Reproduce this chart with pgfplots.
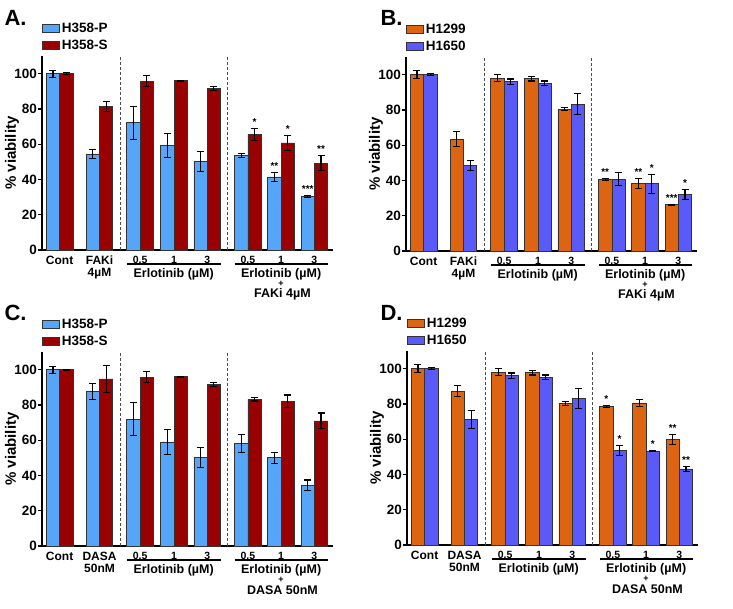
\documentclass[border=0pt]{standalone}
\usepackage{pgfplots}
\pgfplotsset{compat=1.18}
\usepackage{pgfplotstable}
\usepackage{fontspec}
\setmainfont{Liberation Sans}
\definecolor{lblue}{HTML}{55A6F8}
\definecolor{dred}{HTML}{990000}
\definecolor{dorange}{HTML}{DD6410}
\definecolor{vblue}{HTML}{5A5AF8}
\newcommand\fs[1]{\fontsize{#1}{#1}\selectfont\bfseries}
\newcommand\sn[1]{{\fs{10.5}#1}}

\pgfplotstableread{
x P eP S eS
0 100 2 100 0.5
1.2 54.5 2.5 81.4 2.8
2.42 72.1 9.3 95.8 3.2
3.44 59.2 7 96 0.3
4.44 50.3 5.7 91.5 1.2
5.66 53.5 1.1 65.7 3.4
6.66 41.4 2.7 60.7 4.2
7.66 30.4 0.5 49.3 4.2
}\dataA
\pgfplotstableread{
x P eP S eS
0 100 2.2 100 0.5
1.2 63.4 4.2 48.4 2.8
2.42 97.9 2 96 1.5
3.44 97.7 1.3 95.1 1.3
4.44 80.5 1 83.3 5.9
5.66 40.4 0.5 40.8 3.8
6.66 38.1 2.8 38.1 5.4
7.66 26.2 0.4 32.1 2.8
}\dataB
\pgfplotstableread{
x P eP S eS
0 100 2 100 0.3
1.2 87.6 4.6 94.7 7.8
2.42 72 9.5 95.8 3.2
3.44 59 7 96 0.3
4.44 50.3 5.7 91.4 1.2
5.66 58.3 5.1 83.2 1
6.66 50.1 3.1 82.1 3.5
7.66 34.5 2.9 70.9 4.5
}\dataC
\pgfplotstableread{
x P eP S eS
0 100 2.2 100 0.4
1.2 87.3 3 71.2 4.9
2.42 97.9 2 96 1.5
3.44 97.7 1.3 95.1 1.3
4.44 80.3 1 83 5.8
5.66 78.4 0.5 53.5 2.8
6.66 80.6 1.9 53.3 0.4
7.66 59.8 2.9 43.1 1.6
}\dataD

\tikzset{st/.style={font=\fs{10}, anchor=base, inner sep=0pt}}
\pgfplotsset{
 panel/.style={
  scale only axis, width=291pt, height=194pt,
  xmin=-0.53, xmax=8.22, ymin=0, ymax=110,
  axis lines=left, axis line style={-, line width=1.6pt},
  clip=false,
  ybar, bar width=0.4,
  ytick={0,20,40,60,80,100},
  tick align=outside, major tick length=4pt,
  every tick/.style={black, line width=1.3pt},
  xtick={0,1.2,2.42,3.44,4.44,5.66,6.66,7.66},
  major x tick style={draw=none},
  /pgf/number format/assume math mode=true,
  yticklabel style={font=\fs{13.5}, inner sep=1pt},
  xticklabel style={font=\fs{12}, align=center, anchor=north, inner sep=0pt, yshift=-2pt},
  legend cell align=left,
  legend style={draw=none, fill=none, at={(rel axis cs:0,1)}, anchor=south west, yshift=4pt, font=\fs{13.5}, inner sep=0pt, row sep=4pt, nodes={inner xsep=2pt, inner ysep=1pt}},
  legend image code/.code={\draw[#1] (0pt,-4pt) rectangle (17pt,4pt);},
 },
 bars/.style={draw=black!80, line width=0.7pt, fill=#1, error bars/.cd, y dir=both, y explicit, error bar style={line width=1.1pt, black}, error mark options={rotate=90, mark size=3.5pt, line width=1.1pt, black}},
}

\newcommand\decor[1]{%
  \draw[densely dashed, black!70, line width=0.6pt] (axis cs:1.81,0) -- (axis cs:1.81,110);
  \draw[densely dashed, black!70, line width=0.6pt] (axis cs:5.05,0) -- (axis cs:5.05,110);
  \draw[line width=1.3pt] ([yshift=-14pt]axis cs:2.02,0) -- ([yshift=-14pt]axis cs:4.84,0);
  \draw[line width=1.3pt] ([yshift=-14pt]axis cs:5.26,0) -- ([yshift=-14pt]axis cs:8.06,0);
  \node[font=\fs{12.5}, inner sep=0pt] at ([yshift=-24.5pt]axis cs:3.43,0) {Erlotinib (µM)};
  \node[font=\fs{12.5}, inner sep=0pt] at ([yshift=-24.5pt]axis cs:6.66,0) {Erlotinib (µM)};
  \node[font=\fs{9}, inner sep=0pt] at ([yshift=-33.5pt]axis cs:6.66,0) {+};
  \node[font=\fs{12.5}, inner sep=0pt] at ([yshift=-44pt]axis cs:6.7,0) {#1};
  \node[rotate=90, font=\fs{15}] at ([xshift=-30pt]rel axis cs:0,0.5) {\% viability};
}

\begin{document}
\begin{tikzpicture}
\path[use as bounding box] (0pt,0pt) rectangle (733pt,608pt);

% Panel A
\begin{axis}[panel, at={(42pt,358pt)}, anchor=south west,
  xticklabels={Cont, {FAKi\\4µM}, \sn{0.5}, \sn{1}, \sn{3}, \sn{0.5}, \sn{1}, \sn{3}}]
\addplot[bar shift=-0.2, bars=lblue] table[x=x, y=P, y error=eP] {\dataA};
\addlegendentry{H358-P}
\addplot[bar shift=0.2, bars=dred] table[x=x, y=S, y error=eS] {\dataA};
\addlegendentry{H358-S}
\decor{FAKi 4µM}
\node[st] at (axis cs:5.86,70.8) {*};
\node[st] at (axis cs:6.46,45.8) {**};
\node[st] at (axis cs:6.86,66.6) {*};
\node[st] at (axis cs:7.46,32.6) {***};
\node[st] at (axis cs:7.86,55.2) {**};
\end{axis}

% Panel B
\begin{axis}[panel, at={(406pt,357pt)}, anchor=south west,
  xticklabels={Cont, {FAKi\\4µM}, \sn{0.5}, \sn{1}, \sn{3}, \sn{0.5}, \sn{1}, \sn{3}}]
\addplot[bar shift=-0.2, bars=dorange] table[x=x, y=P, y error=eP] {\dataB};
\addlegendentry{H1299}
\addplot[bar shift=0.2, bars=vblue] table[x=x, y=S, y error=eS] {\dataB};
\addlegendentry{H1650}
\decor{FAKi 4µM}
\node[st] at (axis cs:5.46,42.6) {**};
\node[st] at (axis cs:6.46,42.6) {**};
\node[st] at (axis cs:6.86,45.2) {*};
\node[st] at (axis cs:7.46,28.3) {***};
\node[st] at (axis cs:7.86,36.6) {*};
\end{axis}

% Panel C
\begin{axis}[panel, at={(42pt,62pt)}, anchor=south west,
  xticklabels={Cont, {DASA\\50nM}, \sn{0.5}, \sn{1}, \sn{3}, \sn{0.5}, \sn{1}, \sn{3}}]
\addplot[bar shift=-0.2, bars=lblue] table[x=x, y=P, y error=eP] {\dataC};
\addlegendentry{H358-P}
\addplot[bar shift=0.2, bars=dred] table[x=x, y=S, y error=eS] {\dataC};
\addlegendentry{H358-S}
\decor{DASA 50nM}
\end{axis}

% Panel D
\begin{axis}[panel, at={(407pt,63pt)}, anchor=south west,
  xticklabels={Cont, {DASA\\50nM}, \sn{0.5}, \sn{1}, \sn{3}, \sn{0.5}, \sn{1}, \sn{3}}]
\addplot[bar shift=-0.2, bars=dorange] table[x=x, y=P, y error=eP] {\dataD};
\addlegendentry{H1299}
\addplot[bar shift=0.2, bars=vblue] table[x=x, y=S, y error=eS] {\dataD};
\addlegendentry{H1650}
\decor{DASA 50nM}
\node[st] at (axis cs:5.46,80.6) {*};
\node[st] at (axis cs:5.86,58.0) {*};
\node[st] at (axis cs:6.86,55.4) {*};
\node[st] at (axis cs:7.46,64.4) {**};
\node[st] at (axis cs:7.86,46.4) {**};
\end{axis}

\node[font=\fs{22}, anchor=west] at (1pt,590pt) {A.};
\node[font=\fs{22}, anchor=west] at (377pt,590pt) {B.};
\node[font=\fs{22}, anchor=west] at (1pt,295pt) {C.};
\node[font=\fs{22}, anchor=west] at (377pt,295pt) {D.};
\end{tikzpicture}
\end{document}
